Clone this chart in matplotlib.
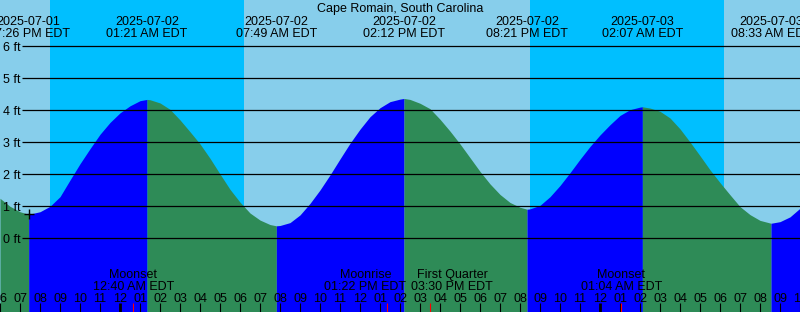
import matplotlib.pyplot as plt

plt.rcParams['font.family'] = ['Liberation Sans', 'DejaVu Sans']

# hours from 2025-07-02 00:00 EDT
tide_hours = [-6, -5.5, -5, -4.567, -4, -3.5, -3, -2.5, -2, -1.5, -1, -0.5,
              0, 0.5, 1, 1.35, 1.5, 2, 2.5, 3, 3.5, 4, 4.5, 5, 5.5, 6, 6.5,
              7, 7.5, 7.817, 8, 8.5, 9, 9.5, 10, 10.5, 11, 11.5, 12, 12.5,
              13, 13.5, 14, 14.2, 14.5, 15, 15.5, 16, 16.5, 17, 17.5, 18,
              18.5, 19, 19.5, 20, 20.35, 20.5, 21, 21.5, 22, 22.5, 23, 23.5,
              24, 24.5, 25, 25.5, 26, 26.117, 26.5, 27, 27.5, 28, 28.5, 29,
              29.5, 30, 30.5, 31, 31.5, 32, 32.55, 33, 33.5, 34]
tide_ft = [1.25, 1.0, 0.83, 0.75, 0.83, 1.0, 1.30, 1.82, 2.33, 2.80, 3.25, 3.62,
           3.92, 4.14, 4.30, 4.34, 4.33, 4.23, 4.03, 3.70, 3.33, 2.95, 2.50, 2.01,
           1.53, 1.13, 0.79, 0.57, 0.43, 0.39, 0.40, 0.49, 0.73, 1.09, 1.51, 1.98,
           2.48, 2.97, 3.41, 3.80, 4.08, 4.27, 4.35, 4.37, 4.34, 4.22, 4.05, 3.72,
           3.35, 2.95, 2.52, 2.09, 1.70, 1.37, 1.12, 0.97, 0.91, 0.92, 1.03, 1.30,
           1.65, 2.05, 2.47, 2.87, 3.23, 3.55, 3.84, 4.02, 4.10, 4.11, 4.07, 3.97,
           3.76, 3.42, 3.01, 2.58, 2.14, 1.74, 1.36, 0.99, 0.74, 0.56, 0.47, 0.52,
           0.67, 0.94]

ext_hours = [-4.567, 1.35, 7.817, 14.2, 20.35, 26.117, 32.55]
ext_dates = ['2025-07-01', '2025-07-02', '2025-07-02', '2025-07-02',
             '2025-07-02', '2025-07-03', '2025-07-03']
ext_times = ['07:26 PM EDT', '01:21 AM EDT', '07:49 AM EDT', '02:12 PM EDT',
             '08:21 PM EDT', '02:07 AM EDT', '08:33 AM EDT']

night_start = [-3.5, 20.5]
night_end = [6.2, 30.2]

moon_hours = [0.667, 13.367, 15.5, 25.067]
moon_names = ['Moonset', 'Moonrise', 'First Quarter', 'Moonset']
moon_times = ['12:40 AM EDT', '01:22 PM EDT', '03:30 PM EDT', '01:04 AM EDT']
moon_shift_px = [0, -22, 22, 0]   # labels pushed apart where they collide

grid_ft = [0, 1, 2, 3, 4, 5, 6]

W, H = 800, 312
X0, X1 = -6, 34
Y0, Y1 = -2.303, 7.447

fig = plt.figure(figsize=(W / 100, H / 100), dpi=100)
ax = fig.add_axes([0, 0, 1, 1])
ax.set_xlim(X0, X1)
ax.set_ylim(Y0, Y1)
ax.axis('off')

def fy(py):
    return 1 - py / H

ax.axvspan(X0, X1, color='#87CEEB', lw=0, zorder=0)
for a, b in zip(night_start, night_end):
    ax.axvspan(a, b, color='#00BFFF', lw=0, zorder=0)

# tide fill, blue while rising, green while falling
cuts = [0] + [tide_hours.index(t) for t in ext_hours] + [len(tide_hours) - 1]
for a, b in zip(cuts[:-1], cuts[1:]):
    if b <= a:
        continue
    col = '#0000FF' if tide_ft[b] > tide_ft[a] else '#2E8B57'
    ax.fill_between(tide_hours[a:b + 1], tide_ft[a:b + 1], Y0, color=col,
                    lw=0, zorder=1)

ax.hlines(grid_ft, -4.9, X1, color='black', lw=0.9, zorder=2)
for f in grid_ft:
    ax.text(3 / W, f - 4.3 / 32, f'{f} ft', transform=ax.get_yaxis_transform(),
            ha='left', va='baseline', fontsize=9, zorder=3)

ax.plot(ext_hours[0], tide_ft[tide_hours.index(ext_hours[0])], marker='+',
        ms=7, mew=1, color='black', zorder=3)

xt = ax.get_xaxis_transform()
ax.text(0.5, fy(12), 'Cape Romain, South Carolina', transform=ax.transAxes,
        ha='center', va='baseline', fontsize=9)
for h, d, t in zip(ext_hours, ext_dates, ext_times):
    ax.text(h, fy(25), d, transform=xt, ha='center', va='baseline', fontsize=9)
    ax.text(h, fy(36.7), t, transform=xt, ha='center', va='baseline', fontsize=9)

# hour ticks
for h in range(X0, X1 + 1):
    hh = h % 24
    lab = '%02d' % (hh % 12 if hh % 12 else 12)
    ax.text(h, fy(302.3), lab, transform=xt, ha='center', va='baseline',
            fontsize=9, zorder=3)
    ax.vlines(h, 0, 9 / H, transform=xt, color='black',
              lw=2.0 if hh == 0 else 0.8, zorder=3)

for h, n, t, s in zip(moon_hours, moon_names, moon_times, moon_shift_px):
    ax.vlines(h, 0, 9 / H, transform=xt, color='red', lw=0.8, zorder=3)
    lx = h + s / 20
    ax.text(lx, fy(278.3), n, transform=xt, ha='center', va='baseline',
            fontsize=9, zorder=3)
    ax.text(lx, fy(290), t, transform=xt, ha='center', va='baseline',
            fontsize=9, zorder=3)

fig.savefig('out.png', dpi=100)
